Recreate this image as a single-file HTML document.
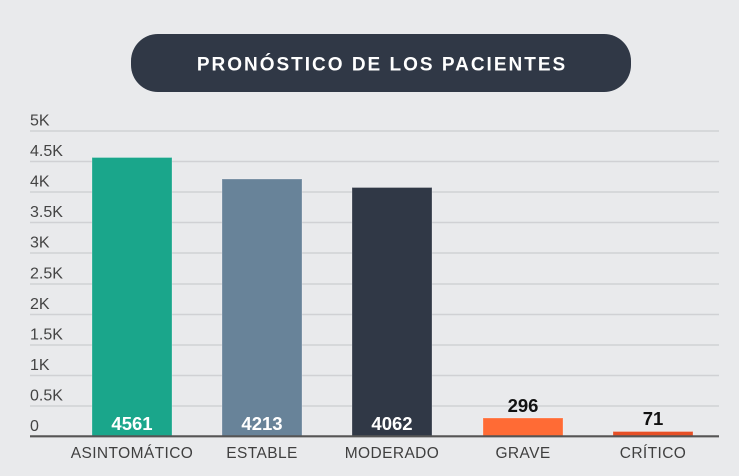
<!DOCTYPE html>
<html><head><meta charset="utf-8"><style>
html,body{margin:0;padding:0;background:#e9eaec;}
svg{display:block;}
.yl{font-family:"Liberation Sans",sans-serif;font-size:16px;fill:#444;}
.xl{font-family:"Liberation Sans",sans-serif;font-size:15.5px;fill:#3f3f3f;letter-spacing:0.4px;}
.vw{font-family:"Liberation Sans",sans-serif;font-size:18.5px;font-weight:bold;fill:#fff;}
.vb{font-family:"Liberation Sans",sans-serif;font-size:18.5px;font-weight:bold;fill:#111;}
</style></head><body>
<svg width="739" height="476" viewBox="0 0 739 476" xmlns="http://www.w3.org/2000/svg">
<rect width="739" height="476" fill="#e9eaec"/>
<rect x="131" y="34" width="500" height="58" rx="27" fill="#303846"/>
<text x="382" y="70.5" text-anchor="middle" font-family="Liberation Sans, sans-serif" font-size="19" font-weight="bold" fill="#fff" letter-spacing="2">PRONÓSTICO DE LOS PACIENTES</text>
<g stroke="#d0d1d4" stroke-width="1.5">
<line x1="30" x2="719" y1="406" y2="406"/>
<line x1="30" x2="719" y1="375.5" y2="375.5"/>
<line x1="30" x2="719" y1="345" y2="345"/>
<line x1="30" x2="719" y1="314.5" y2="314.5"/>
<line x1="30" x2="719" y1="284" y2="284"/>
<line x1="30" x2="719" y1="253" y2="253"/>
<line x1="30" x2="719" y1="222.5" y2="222.5"/>
<line x1="30" x2="719" y1="192" y2="192"/>
<line x1="30" x2="719" y1="161.5" y2="161.5"/>
<line x1="30" x2="719" y1="131" y2="131"/>
</g>
<g class="yl">
<text x="30" y="431">0</text>
<text x="30" y="400.5">0.5K</text>
<text x="30" y="370">1K</text>
<text x="30" y="339.5">1.5K</text>
<text x="30" y="309">2K</text>
<text x="30" y="278.5">2.5K</text>
<text x="30" y="247.5">3K</text>
<text x="30" y="217">3.5K</text>
<text x="30" y="186.5">4K</text>
<text x="30" y="156">4.5K</text>
<text x="30" y="125.5">5K</text>
</g>
<g stroke="rgba(255,255,255,0.25)" stroke-width="1">
<rect x="92" y="157.5" width="80" height="279" fill="#1aa68b"/>
<rect x="222" y="179" width="80" height="257.5" fill="#688399"/>
<rect x="352" y="187.5" width="80" height="249" fill="#303846"/>
<rect x="483" y="418" width="80" height="18.5" fill="#ff6b35"/>
<rect x="613" y="431.5" width="80" height="5" fill="#e64f26"/>
</g>
<line x1="30" x2="719" y1="436.3" y2="436.3" stroke="#555" stroke-width="2.2"/>
<g text-anchor="middle">
<text class="vw" x="132" y="430">4561</text>
<text class="vw" x="262" y="430">4213</text>
<text class="vw" x="392" y="430">4062</text>
<text class="vb" x="523" y="412">296</text>
<text class="vb" x="653" y="425">71</text>
<text class="xl" x="132" y="458">ASINTOMÁTICO</text>
<text class="xl" x="262" y="458">ESTABLE</text>
<text class="xl" x="392" y="458">MODERADO</text>
<text class="xl" x="523" y="458">GRAVE</text>
<text class="xl" x="653" y="458">CRÍTICO</text>
</g>
</svg>
</body></html>
